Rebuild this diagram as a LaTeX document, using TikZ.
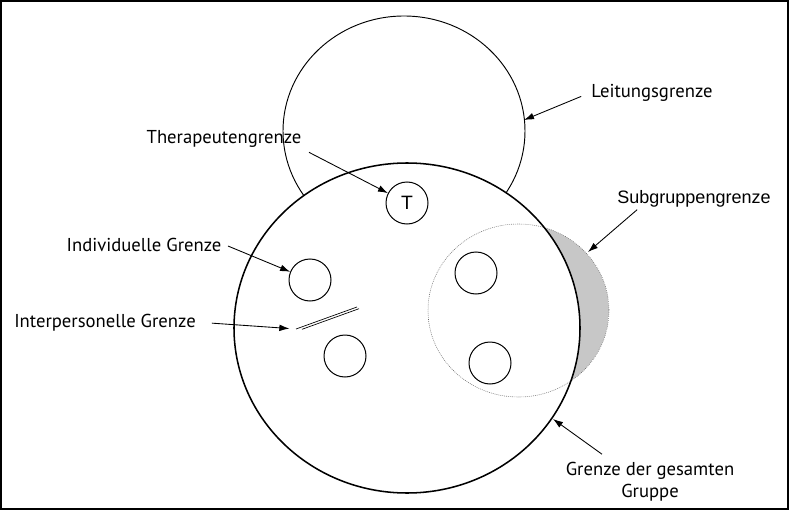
\documentclass[tikz,border=0pt]{standalone}
\usepackage{fontspec}
\setmainfont{PT Sans}
\newfontfamily\arialfont{Liberation Sans}
\usetikzlibrary{arrows.meta}

\begin{document}
\begin{tikzpicture}[x=0.75pt, y=-0.75pt, font=\fontsize{14}{16.5}\selectfont, >={Latex[length=7.5pt,width=5pt]},
  bound/.style={draw, line width=0.7pt},
  person/.style={draw, circle, line width=0.75pt, minimum size=31.5pt, inner sep=0pt},
  lbl/.style={inner sep=2pt},
  arr/.style={->, line width=0.65pt}]
  \useasboundingbox (0,0) rectangle (789,510);
  \draw[line width=1.5pt] (1,1) rectangle (788,509);
  % Leitungsgrenze
  \draw[bound] (404,131) ellipse [x radius=121, y radius=115];
  % gesamte Gruppe und Subgruppe
  \fill[white] (407,328) ellipse [x radius=173, y radius=165];
  \begin{scope}
    \clip (518.5,310.5) ellipse [x radius=90.5, y radius=86.5];
    \fill[black!22, even odd rule] (518.5,310.5) ellipse [x radius=90.5, y radius=86.5]
      (407,328) ellipse [x radius=173, y radius=165];
  \end{scope}
  \draw[densely dotted, black!60, line width=0.45pt] (518.5,310.5) ellipse [x radius=90.5, y radius=86.5];
  \draw[line width=1.15pt] (407,328) ellipse [x radius=173, y radius=165];
  \coordinate (lead-pt) at (524,120);
  \coordinate (grp-pt) at (553,419);
  \coordinate (sub-pt) at (588,252);
  % Mitglieder
  \node[person, font=\arialfont\fontsize{14.5}{16}\selectfont] (T) at (407,203) {T};
  \node[person] (p1) at (310,280) {};
  \node[person] (p2) at (345,356) {};
  \node[person] (p3) at (476,273) {};
  \node[person] (p4) at (490,363) {};
  \coordinate (ip1) at (296,329); \coordinate (ip2) at (357,307);
  \coordinate (ip3) at (302,329.3); \coordinate (ip4) at (359,308.7);
  \draw[line width=0.5pt] (ip1) -- (ip2);
  \draw[line width=0.5pt] (ip3) -- (ip4);
  % labels
  \node[lbl, anchor=base] (lead) at (652,98) {Leitungsgrenze};
  \node[lbl, anchor=base] (ther) at (224,143) {Therapeutengrenze};
  \node[lbl, anchor=base] (ind) at (144,251) {Individuelle Grenze};
  \node[lbl, anchor=base] (inter) at (105,327) {Interpersonelle Grenze};
  \node[lbl, anchor=base, font=\arialfont\fontsize{13.5}{16}\selectfont] (sub) at (694,203) {Subgruppengrenze};
  \node[lbl, align=center] (ges) at (650,482) {Grenze der gesamten\\Gruppe};
  \draw[arr, shorten <=6pt] (lead.west) -- (lead-pt);
  \draw[arr, shorten <=4pt] (ther.south east) -- (T);
  \draw[arr, shorten <=3pt] (ind.east) -- (p1);
  \draw[arr, shorten <=10pt, shorten >=5pt] (inter.east) -- (ip1);
  \draw[arr] ([xshift=17pt]sub.south west) -- (sub-pt);
  \draw[arr] ([xshift=-36pt, yshift=4pt]ges.north) -- (grp-pt);
\end{tikzpicture}
\end{document}
